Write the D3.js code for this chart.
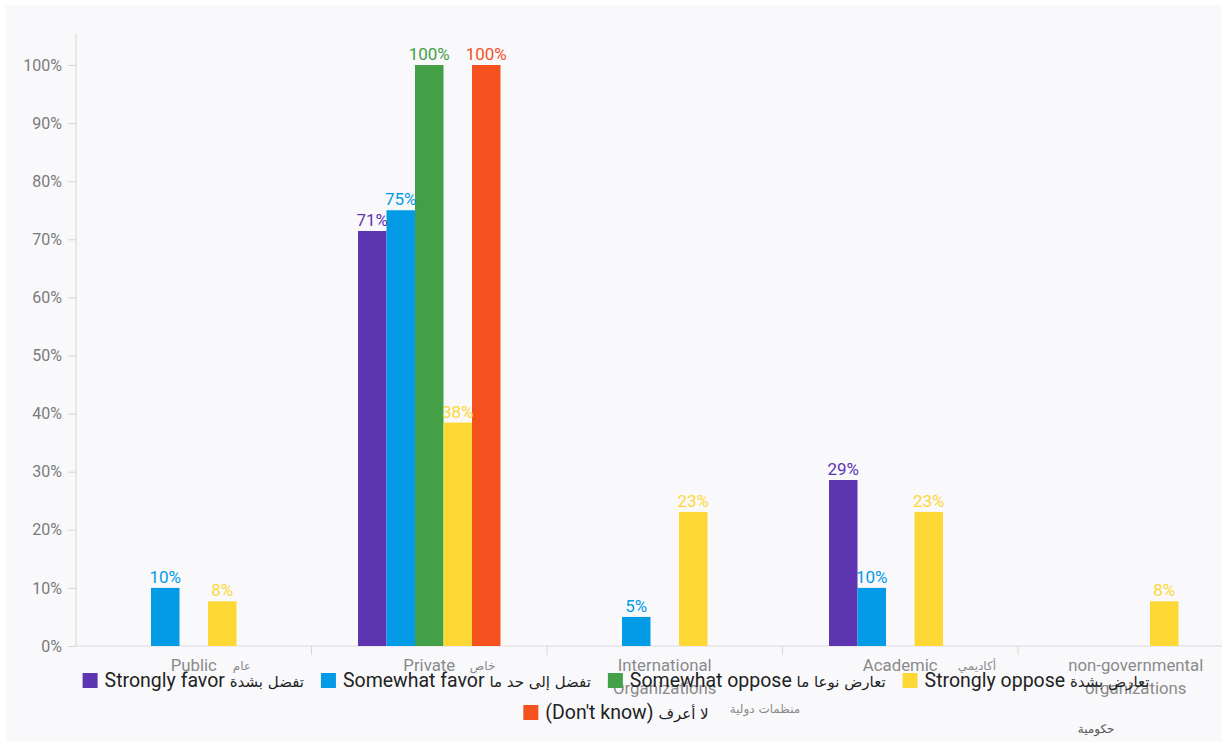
<!DOCTYPE html>
<html>
<head>
<meta charset="utf-8">
<script src="https://cdn.jsdelivr.net/npm/d3@7"></script>
<style>
  html, body { margin: 0; padding: 0; background: #ffffff; }
  svg { display: block; font-family: Roboto, "Noto Sans", sans-serif; }
</style>
</head>
<body>
<svg id="chart" width="1222" height="742"></svg>
<script>
// Categories (English + Arabic)
const categories = ["Public", "Private", "International Organizations", "Academic", "non-governmental organizations"];
const categoriesAr = ["عام", "خاص", "منظمات دولية", "أكاديمي", "حكومية"];

// Series names (English + Arabic)
const seriesNames = ["Strongly favor", "Somewhat favor", "Somewhat oppose", "Strongly oppose", "(Don't know)"];
const seriesNamesAr = ["تفضل بشدة", "تفضل إلى حد ما", "تعارض نوعا ما", "تعارض بشدة", "لا أعرف"];
const seriesColors = ["#5e35b1", "#039be5", "#43a047", "#fdd835", "#f4511e"];

// Percent of respondents per category (null = no responses)
const stronglyFavor   = [null, 71.43, null, 28.57, null];
const somewhatFavor   = [10, 75, 5, 10, null];
const somewhatOppose  = [null, 100, null, null, null];
const stronglyOppose  = [7.69, 38.46, 23.08, 23.08, 7.69];
const dontKnow        = [null, 100, null, null, null];

const yTicks = [0, 10, 20, 30, 40, 50, 60, 70, 80, 90, 100];

const seriesValues = [stronglyFavor, somewhatFavor, somewhatOppose, stronglyOppose, dontKnow];

const svg = d3.select("#chart");
const W = 1222, H = 742;

// page and panel background
svg.append("rect").attr("width", W).attr("height", H).attr("fill", "#ffffff");
svg.append("rect").attr("x", 6).attr("y", 5).attr("width", W - 6).attr("height", H - 5).attr("fill", "#f9f9fc");

const plot = { left: 76, top: 34, bottom: 646, bandStep: 235.5 };

const x0 = d3.scaleBand()
  .domain(categories)
  .range([plot.left, plot.left + plot.bandStep * categories.length])
  .paddingInner(0).paddingOuter(0);

const x1 = d3.scaleBand()
  .domain(seriesNames)
  .range([46.5, plot.bandStep - 46.5])
  .padding(0);

const y = d3.scaleLinear().domain([0, 100]).range([plot.bottom, 65]);

// y axis
const yAxisG = svg.append("g").attr("transform", `translate(${plot.left},0)`);
yAxisG.append("line")
  .attr("x1", 0).attr("x2", 0).attr("y1", plot.top).attr("y2", plot.bottom)
  .attr("stroke", "#dcdcdc").attr("stroke-width", 1.2);
yAxisG.call(d3.axisLeft(y).tickValues(yTicks).tickFormat(d => d + "%").tickSize(8).tickPadding(6))
  .call(g => g.select(".domain").remove())
  .call(g => g.selectAll(".tick line").attr("stroke", "#d6d6d6"))
  .call(g => g.selectAll(".tick text")
      .attr("fill", "#7a7a7a")
      .style("font-size", "16px")
      .style("font-family", "Roboto, sans-serif"));

// x axis baseline and group separators
const xAxisG = svg.append("g").attr("transform", `translate(0,${plot.bottom})`);
xAxisG.append("line")
  .attr("x1", plot.left).attr("x2", W).attr("y1", 0).attr("y2", 0)
  .attr("stroke", "#dcdcdc").attr("stroke-width", 1.2);
xAxisG.selectAll("line.sep")
  .data(categories.slice(1))
  .join("line")
  .attr("class", "sep")
  .attr("x1", d => x0(d)).attr("x2", d => x0(d))
  .attr("y1", 0).attr("y2", 9)
  .attr("stroke", "#d6d6d6");

// bars
const groups = svg.append("g").selectAll("g")
  .data(categories)
  .join("g")
  .attr("transform", d => `translate(${x0(d)},0)`);

const cells = (c, ci) => seriesNames
  .map((s, si) => ({ s, si, v: seriesValues[si][ci] }))
  .filter(d => d.v != null);

groups.selectAll("rect")
  .data(cells)
  .join("rect")
  .attr("x", d => x1(d.s))
  .attr("width", x1.bandwidth())
  .attr("y", d => y(d.v))
  .attr("height", d => y(0) - y(d.v))
  .attr("fill", d => seriesColors[d.si]);

groups.selectAll("text.val")
  .data(cells)
  .join("text")
  .attr("class", "val")
  .attr("x", d => x1(d.s) + x1.bandwidth() / 2)
  .attr("y", d => y(d.v) - 5)
  .attr("text-anchor", "middle")
  .attr("fill", d => seriesColors[d.si])
  .style("font-size", "17px")
  .text(d => Math.round(d.v) + "%");

// category labels (English, wrapped) with Arabic translation beside
const arOffset = [[39, 0], [40.5, 0], [65, 43], [57.5, 0], [-58, 63]];
const labelG = svg.append("g");
categories.forEach((c, i) => {
  const cx = x0(c) + x0.bandwidth() / 2;
  const words = c.split(" ");
  const t = labelG.append("text")
    .attr("x", cx).attr("y", 671)
    .attr("text-anchor", "middle")
    .attr("fill", "#8a8a8a")
    .style("font-size", "16.8px");
  let line = [];
  let tspan = t.append("tspan").attr("x", cx).attr("dy", 0);
  words.forEach(w => {
    line.push(w);
    tspan.text(line.join(" "));
    if (tspan.node().getComputedTextLength() > 150 && line.length > 1) {
      line.pop();
      tspan.text(line.join(" "));
      line = [w];
      tspan = t.append("tspan").attr("x", cx).attr("dy", 23).text(w);
    }
  });
  labelG.append("text")
    .attr("x", cx + arOffset[i][0])
    .attr("y", 670 + arOffset[i][1])
    .attr("fill", i === 4 ? "#555" : "#8a8a8a")
    .style("font-family", "'DejaVu Sans', sans-serif")
    .style("font-size", "12px")
    .text(categoriesAr[i]);
});

// legend, centered rows
const legendG = svg.append("g");
const items = seriesNames.map((s, i) => {
  const g = legendG.append("g");
  g.append("rect").attr("width", 15).attr("height", 15).attr("y", -14).attr("fill", seriesColors[i]);
  const t = g.append("text").attr("x", 22).attr("y", 0).attr("fill", "#222");
  t.append("tspan").style("font-size", "19.5px").style("font-family", "Roboto, sans-serif").text(s + " ");
  t.append("tspan").style("font-size", "15px").style("font-family", "'DejaVu Sans', sans-serif").text(seriesNamesAr[i]);
  const w = 22 + t.node().getComputedTextLength();
  return { g, w };
});
const gap = 17, maxRow = 1120, centerX = 616;
const rows = [[]];
let rowW = 0;
items.forEach(it => {
  const add = (rows[rows.length - 1].length ? gap : 0) + it.w;
  if (rowW + add > maxRow && rows[rows.length - 1].length) {
    rows.push([it]); rowW = it.w;
  } else {
    rows[rows.length - 1].push(it); rowW += add;
  }
});
rows.forEach((r, ri) => {
  const total = d3.sum(r, d => d.w) + gap * (r.length - 1);
  let xx = centerX - total / 2;
  r.forEach(it => {
    it.g.attr("transform", `translate(${xx},${687 + ri * 32})`);
    xx += it.w + gap;
  });
});
</script>
</body>
</html>
